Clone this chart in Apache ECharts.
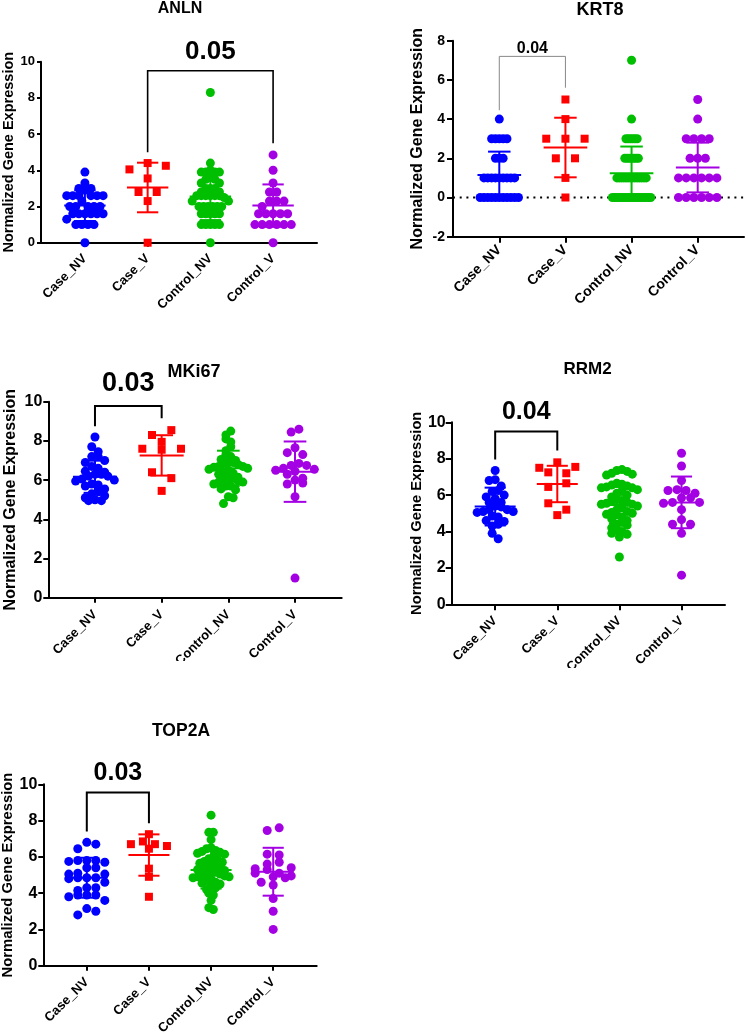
<!DOCTYPE html>
<html>
<head>
<meta charset="utf-8">
<script src="https://cdn.jsdelivr.net/npm/echarts@6/dist/echarts.min.js"></script>
<style>
html, body { margin: 0; padding: 0; background: #fff; }
#main { width: 748px; height: 1036px; }
</style>
</head>
<body>
<div id="main"></div>
<script>
var groups = ['Case_NV', 'Case_V', 'Control_NV', 'Control_V'];
var colors = ['#0000FF', '#FF0000', '#00BF00', '#A400E4'];
var genes = ['ANLN', 'KRT8', 'MKi67', 'RRM2', 'TOP2A'];
var pLabels = ['0.05', '0.04', '0.03', '0.04', '0.03'];
var yTitle = 'Normalized Gene Expression';
var FONT = "'Liberation Sans', Arial, sans-serif";

// ANLN
var anlnCaseNV = [3.9, 3.3, 3.0, 3.0, 2.9, 2.6, 2.6, 2.6, 2.6, 2.6, 2.6, 2.3, 2.0, 2.0, 2.0, 2.0, 2.0, 1.6, 1.6, 1.6, 1.6, 1.6, 1.6, 1.3, 1.0, 1.0, 1.0, 1.0, 0];
var anlnCaseV = [4.4, 4.25, 4.05, 3.55, 2.8, 2.8, 2.3, 0];
var anlnControlNV = [8.3, 4.4, 4.0, 3.9, 3.9, 3.9, 3.9, 3.6, 3.5, 3.5, 3.3, 3.3, 3.0, 3.0, 3.0, 2.8, 2.8, 2.6, 2.6, 2.6, 2.6, 2.6, 2.6, 2.5, 2.3, 2.3, 2.0, 2.0, 2.0, 2.0, 2.0, 2.0, 1.6, 1.6, 1.6, 1.6, 1.6, 1.0, 1.0, 1.0, 1.0, 1.0, 0];
var anlnControlV = [4.85, 4.0, 3.3, 2.8, 2.8, 2.3, 2.3, 2.3, 2.0, 1.6, 1.6, 1.6, 1.6, 1.6, 1.0, 1.0, 1.0, 1.0, 1.0, 1.0, 0];
var anlnMean = [2.05, 3.05, 2.55, 2.05];
var anlnSd = [0.85, 1.37, 1.3, 1.17];
var anlnBracket = [1, 3, 9.5, 5.0, 5.5];

// KRT8
var krt8CaseNV = [4, 3, 3, 3, 3, 3, 2, 2, 2, 1, 1, 1, 1, 1, 1, 1, 1, 1, 0, 0, 0, 0, 0, 0, 0, 0, 0, 0, 0];
var krt8CaseV = [5, 4, 3, 3, 3, 2, 2, 1, 0];
var krt8ControlNV = [7, 4, 3, 3, 3, 3, 3, 3, 2, 2, 2, 2, 2, 2, 2, 1, 1, 1, 1, 1, 1, 1, 1, 1, 1, 1, 1, 1, 1, 0, 0, 0, 0, 0, 0, 0, 0, 0, 0, 0, 0, 0, 0, 0, 0, 0, 0];
var krt8ControlV = [5, 4, 3, 3, 3, 3, 2, 2, 2, 1, 1, 1, 1, 1, 1, 0, 0, 0, 0, 0, 0];
var krt8Mean = [1.15, 2.55, 1.24, 1.53];
var krt8Sd = [1.19, 1.52, 1.36, 1.27];
var krt8Bracket = [0, 1, 7.2, 4.45, 5.6];

// MKi67
var mkiCaseNV = [8.2, 7.7, 7.45, 7.2, 7.2, 7.0, 6.9, 6.7, 6.6, 6.45, 6.4, 6.3, 6.3, 6.2, 6.2, 6.05, 6.0, 5.95, 5.8, 5.75, 5.7, 5.55, 5.4, 5.3, 5.2, 5.1, 5.0, 4.95, 4.95];
var mkiCaseV = [8.55, 8.3, 7.95, 7.6, 7.6, 7.55, 6.4, 6.1, 5.45];
var mkiControlNV = [8.5, 8.3, 8.1, 7.95, 7.7, 7.5, 7.3, 7.2, 7.05, 7.0, 6.9, 6.9, 6.85, 6.8, 6.7, 6.7, 6.65, 6.6, 6.55, 6.5, 6.4, 6.35, 6.3, 6.15, 6.1, 6.1, 6.05, 5.95, 5.9, 5.9, 5.8, 5.7, 5.7, 5.55, 5.5, 5.15, 5.1, 4.8];
var mkiControlV = [8.6, 8.45, 7.65, 7.4, 7.3, 6.85, 6.75, 6.75, 6.6, 6.55, 6.5, 6.45, 6.3, 6.1, 6.0, 5.85, 5.8, 5.15, 1.0];
var mkiMean = [6.17, 7.26, 6.6, 6.43];
var mkiSd = [0.82, 1.03, 0.9, 1.54];
var mkiBracket = [0, 1, 9.78, 8.75, 9.15];

// RRM2
var rrmCaseNV = [7.35, 6.85, 6.8, 6.5, 6.25, 6.2, 6.0, 5.9, 5.8, 5.6, 5.6, 5.4, 5.35, 5.2, 5.2, 5.1, 5.1, 5.05, 4.85, 4.8, 4.6, 4.55, 4.4, 4.3, 3.9, 3.6];
var rrmCaseV = [7.8, 7.55, 7.5, 7.25, 7.2, 6.65, 6.45, 5.55, 5.2, 4.9];
var rrmControlNV = [7.4, 7.35, 7.3, 7.2, 7.15, 7.1, 6.65, 6.6, 6.55, 6.5, 6.45, 6.4, 6.4, 6.3, 6.2, 6.1, 6.0, 5.9, 5.75, 5.7, 5.65, 5.6, 5.55, 5.5, 5.5, 5.4, 5.3, 5.2, 5.1, 5.05, 5.0, 4.95, 4.9, 4.8, 4.7, 4.6, 4.5, 4.4, 4.35, 4.2, 4.1, 4.0, 3.9, 3.85, 3.7, 2.6];
var rrmControlV = [8.3, 7.6, 6.8, 6.3, 6.25, 6.25, 6.1, 5.85, 5.85, 5.6, 5.6, 5.55, 5.2, 4.65, 4.4, 4.4, 3.9, 1.6];
var rrmMean = [5.37, 6.61, 5.45, 5.6];
var rrmSd = [1.04, 1.0, 1.0, 1.42];
var rrmBracket = [0, 1, 9.5, 7.95, 8.45];

// TOP2A
var topCaseNV = [6.8, 6.7, 6.45, 5.8, 5.8, 5.8, 5.75, 5.7, 5.4, 5.4, 5.1, 5.05, 5.05, 4.85, 4.85, 4.85, 4.8, 4.6, 4.3, 4.3, 4.15, 3.9, 3.9, 3.9, 3.8, 3.6, 3.15, 3.0, 2.8];
var topCaseV = [7.25, 6.85, 6.7, 6.7, 6.6, 6.45, 5.35, 4.9, 3.8];
var topControlNV = [8.3, 7.35, 7.35, 6.95, 6.5, 6.45, 6.35, 6.3, 6.25, 6.2, 6.15, 6.0, 5.9, 5.85, 5.75, 5.7, 5.65, 5.6, 5.5, 5.45, 5.4, 5.35, 5.3, 5.25, 5.2, 5.15, 5.1, 5.05, 5.0, 4.95, 4.9, 4.9, 4.85, 4.8, 4.7, 4.6, 4.55, 4.5, 4.4, 4.3, 4.2, 4.0, 3.9, 3.6, 3.2, 3.1];
var topControlV = [7.6, 7.45, 6.15, 6.1, 5.7, 5.6, 5.4, 5.35, 5.3, 5.1, 5.1, 4.95, 4.9, 4.85, 4.6, 4.45, 3.7, 3.0, 2.0];
var topMean = [4.85, 6.1, 5.28, 5.18];
var topSd = [1.1, 1.14, 1.03, 1.32];
var topBracket = [0, 1, 9.55, 7.4, 7.85];

var panelData = [
    {pts: [anlnCaseNV, anlnCaseV, anlnControlNV, anlnControlV], mean: anlnMean, sd: anlnSd, br: anlnBracket},
    {pts: [krt8CaseNV, krt8CaseV, krt8ControlNV, krt8ControlV], mean: krt8Mean, sd: krt8Sd, br: krt8Bracket},
    {pts: [mkiCaseNV, mkiCaseV, mkiControlNV, mkiControlV], mean: mkiMean, sd: mkiSd, br: mkiBracket},
    {pts: [rrmCaseNV, rrmCaseV, rrmControlNV, rrmControlV], mean: rrmMean, sd: rrmSd, br: rrmBracket},
    {pts: [topCaseNV, topCaseV, topControlNV, topControlV], mean: topMean, sd: topSd, br: topBracket}
];

// panel geometry (pixels)
var layout = [
    {left: 41, top: 61.7, width: 276, height: 181, yMin: 0, yMax: 10, tx: 180, ty: 9, tSize: 16, tick: 13, tickLen: 4, lblMargin: 6, name: 14.5, nameGap: 25, xlab: 13, xMargin: 14, sig: 26, sigGap: 19, brColor: '#000', brWidth: 1.6},
    {left: 453, top: 40.7, width: 291, height: 196, yMin: -2, yMax: 8, tx: 600, ty: 10, tSize: 18, tick: 14, tickLen: 6, lblMargin: 8, name: 16, nameGap: 27, xlab: 14, xMargin: 11, sig: 16, sigGap: 8, brColor: '#888', brWidth: 1, zeroLine: true},
    {left: 48.3, top: 401.7, width: 293.4, height: 196, yMin: 0, yMax: 10, tx: 194, ty: 372, tSize: 18, tick: 16, tickLen: 5, lblMargin: 6, name: 16, nameGap: 30, xlab: 13, xMargin: 15, sig: 27, sigGap: 22, brColor: '#000', brWidth: 2, clipY: 661},
    {left: 451.7, top: 422.3, width: 273.3, height: 182, yMin: 0, yMax: 10, tx: 587.5, ty: 369, tSize: 17, tick: 16, tickLen: 6, lblMargin: 6, name: 14.7, nameGap: 27, xlab: 13, xMargin: 14.5, sig: 25, sigGap: 19, brColor: '#000', brWidth: 2, clipY: 668},
    {left: 43.3, top: 784.3, width: 273.4, height: 181.4, yMin: 0, yMax: 10, tx: 181, ty: 731, tSize: 17.5, tick: 16, tickLen: 5, lblMargin: 6, name: 14.8, nameGap: 27, xlab: 13, xMargin: 14.5, sig: 25, sigGap: 19.4, brColor: '#000', brWidth: 2}
];

// GraphPad-like scatter: bin close values into rows, spread each row evenly,
// filling the slots of a row from the centre outwards
function swarmOffsets(vals, binH, widthPx) {
    var order = vals.map(function(v, i){ return i; }).sort(function(a, b){ return vals[b] - vals[a]; });
    var bins = [], cur = null;
    order.forEach(function(i){
        if (cur && vals[cur[0]] - vals[i] <= binH + 1e-9) {
            cur.push(i);
        } else {
            cur = [i];
            bins.push(cur);
        }
    });
    var kmax = Math.max.apply(null, bins.map(function(b){ return b.length; }));
    var step = kmax > 1 ? widthPx / Math.max(kmax - 1, 2) : 0;
    var off = [];
    bins.forEach(function(b, bi){
        var slots = b.map(function(x, j){ return (j - (b.length - 1) / 2) * step; });
        var flip = bi % 2 ? 1 : -1;
        slots.sort(function(s1, s2){ return Math.abs(s1) - Math.abs(s2) || flip * (s1 - s2); });
        b.forEach(function(i, j){ off[i] = slots[j]; });
    });
    return off;
}

var chart = echarts.init(document.getElementById('main'), null, {renderer: 'canvas'});
var option = {animation: false, grid: [], xAxis: [], yAxis: [], series: [], graphic: []};

layout.forEach(function(L, p){
    var D = panelData[p];
    var yPx = L.height / (L.yMax - L.yMin);
    var bandPx = L.width / 4.4;

    option.grid.push({left: L.left, top: L.top, width: L.width, height: L.height, containLabel: false, outerBoundsMode: 'none'});
    option.xAxis.push({
        type: 'value', gridIndex: p, min: -0.7, max: 3.7,
        splitLine: {show: false},
        axisLine: {show: true, onZero: false, lineStyle: {color: '#000', width: 2}},
        axisTick: {show: true, customValues: [0, 1, 2, 3], length: L.tickLen, lineStyle: {color: '#000', width: 2}},
        axisLabel: {
            customValues: [0, 1, 2, 3], rotate: 45, margin: L.xMargin,
            formatter: function(v){ return groups[Math.round(v)]; },
            color: '#000', fontWeight: 'bold', fontSize: L.xlab, fontFamily: FONT
        }
    });
    option.yAxis.push({
        type: 'value', gridIndex: p, min: L.yMin, max: L.yMax, interval: 2,
        name: yTitle, nameLocation: 'middle', nameGap: L.nameGap,
        nameTextStyle: {color: '#000', fontWeight: 'bold', fontSize: L.name, fontFamily: FONT},
        splitLine: {show: false},
        axisLine: {show: true, onZero: false, lineStyle: {color: '#000', width: 2}},
        axisTick: {show: true, length: L.tickLen, lineStyle: {color: '#000', width: 2}},
        axisLabel: {margin: L.lblMargin, color: '#000', fontWeight: 'bold', fontSize: L.tick, fontFamily: FONT}
    });

    if (L.zeroLine) {
        option.series.push({
            type: 'custom', xAxisIndex: p, yAxisIndex: p, silent: true, z: 1,
            data: [[0]],
            renderItem: function(params, api){
                var cs = params.coordSys;
                var y0 = api.coord([0, api.value(0)])[1];
                return {type: 'line', shape: {x1: cs.x, y1: y0, x2: cs.x + cs.width, y2: y0},
                    style: {stroke: '#000', lineWidth: 2, lineDash: [2, 4.7]}};
            }
        });
    }

    D.pts.forEach(function(vals, g){
        var off = swarmOffsets(vals, 7 / yPx, 0.58 * bandPx);
        option.series.push({
            type: 'scatter', xAxisIndex: p, yAxisIndex: p, silent: true, clip: false, z: 2,
            symbol: g === 1 ? 'rect' : 'circle',
            symbolSize: g === 1 ? 8 : 9,
            itemStyle: {color: colors[g], opacity: 1},
            data: vals.map(function(v, i){ return [g + off[i] / bandPx, v]; })
        });
    });

    // mean +/- SD
    option.series.push({
        type: 'custom', xAxisIndex: p, yAxisIndex: p, silent: true, z: 3,
        data: D.mean.map(function(m, g){ return [g, m, D.sd[g]]; }),
        renderItem: function(params, api){
            var c = api.value(0), m = api.value(1), sd = api.value(2);
            var mL = api.coord([c - 0.33, m]), mR = api.coord([c + 0.33, m]);
            var hiL = api.coord([c - 0.17, m + sd]), hiR = api.coord([c + 0.17, m + sd]);
            var loL = api.coord([c - 0.17, m - sd]), loR = api.coord([c + 0.17, m - sd]);
            var cx = api.coord([c, m])[0];
            var st = {stroke: colors[c], lineWidth: 2, fill: null};
            return {type: 'group', children: [
                {type: 'line', shape: {x1: mL[0], y1: mL[1], x2: mR[0], y2: mR[1]}, style: st},
                {type: 'line', shape: {x1: cx, y1: hiL[1], x2: cx, y2: loL[1]}, style: st},
                {type: 'line', shape: {x1: hiL[0], y1: hiL[1], x2: hiR[0], y2: hiR[1]}, style: st},
                {type: 'line', shape: {x1: loL[0], y1: loL[1], x2: loR[0], y2: loR[1]}, style: st}
            ]};
        }
    });

    // significance bracket
    option.series.push({
        type: 'custom', xAxisIndex: p, yAxisIndex: p, silent: true, z: 3, clip: false,
        data: [D.br],
        renderItem: function(params, api){
            var a = api.coord([api.value(0), api.value(2)]);
            var b = api.coord([api.value(1), api.value(2)]);
            var aEnd = api.coord([api.value(0), api.value(3)]);
            var bEnd = api.coord([api.value(1), api.value(4)]);
            return {type: 'group', children: [
                {type: 'polyline', shape: {points: [[aEnd[0], aEnd[1]], [a[0], a[1]], [b[0], b[1]], [bEnd[0], bEnd[1]]]},
                    style: {stroke: L.brColor, lineWidth: L.brWidth, fill: null}},
                {type: 'text', x: (a[0] + b[0]) / 2, y: a[1] - L.sigGap,
                    style: {text: pLabels[p], fill: '#000', font: 'bold ' + L.sig + 'px ' + FONT,
                        textAlign: 'center', textVerticalAlign: 'middle', align: 'center', verticalAlign: 'middle'}}
            ]};
        }
    });

    option.graphic.push({
        type: 'text', x: L.tx, y: L.ty, silent: true,
        style: {text: genes[p], fill: '#000', font: 'bold ' + L.tSize + 'px ' + FONT,
            textAlign: 'center', textVerticalAlign: 'middle', align: 'center', verticalAlign: 'middle'}
    });

    // the source panels were cropped just under their axis labels
    if (L.clipY) {
        option.graphic.push({
            type: 'rect', silent: true, z: 100,
            shape: {x: L.left - 60, y: L.clipY, width: L.width + 80, height: 16},
            style: {fill: '#fff'}
        });
    }
});

chart.setOption(option);
</script>
</body>
</html>
